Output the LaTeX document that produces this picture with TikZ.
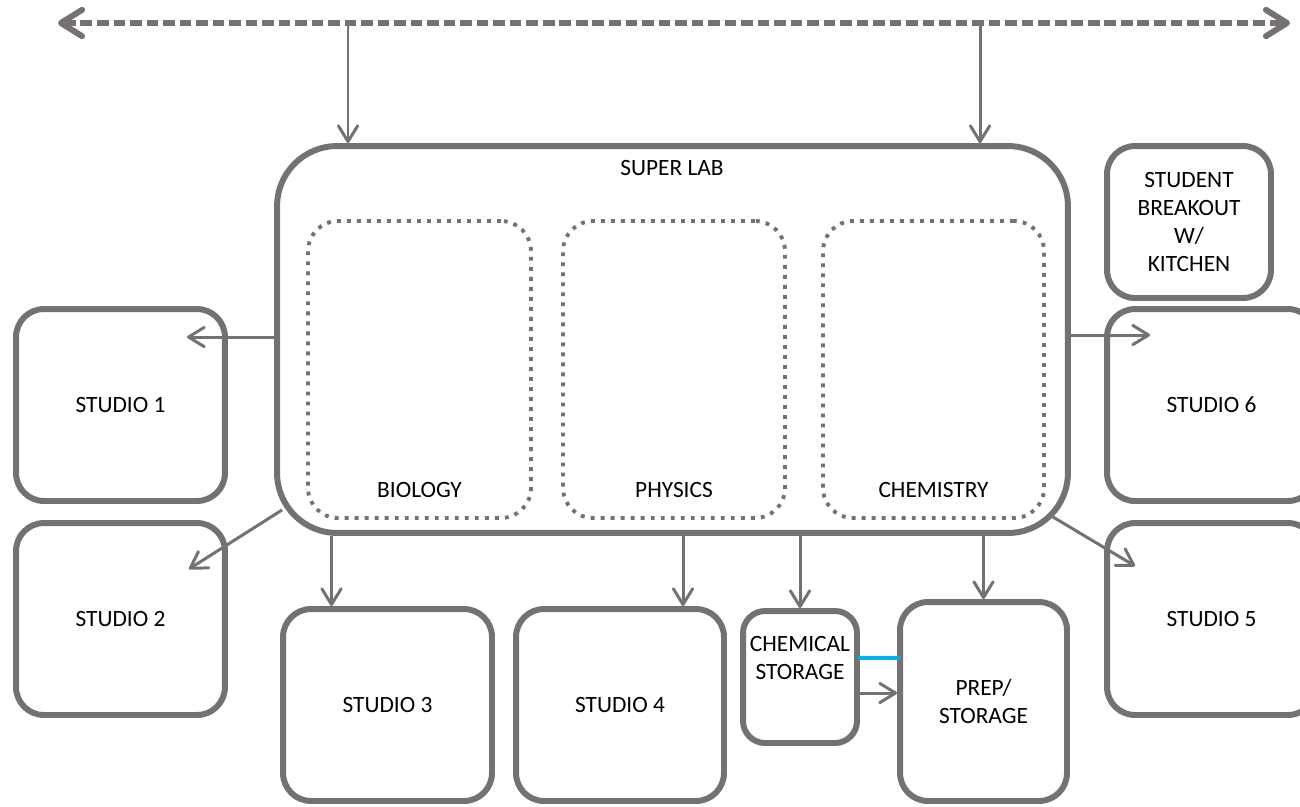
\documentclass[tikz,border=0pt]{standalone}
\usepackage{fontspec}
\setmainfont{Carlito}
\usepackage{xcolor}
\usepackage{tikz}
\usetikzlibrary{arrows.meta,positioning,calc}
\definecolor{labgray}{HTML}{767171}
\definecolor{lineblue}{HTML}{00B0F0}
\newcommand{\roomfont}{\fontsize{13.3}{16}\selectfont}

\begin{document}
\begin{tikzpicture}[x=0.02cm, y=-0.02cm,
  font=\roomfont,
  room/.style={draw=labgray, line width=3.4pt, rounded corners=0.56cm,
    align=center, inner sep=0pt},
  zone/.style={draw=labgray, line width=2.2pt, rounded corners=0.6cm,
    dash pattern=on 2.2pt off 3.5pt, inner sep=0pt},
  link/.style={draw=labgray, line width=1.7pt,
    -{Straight Barb[length=9pt, width=11pt, round]}},
  corridor/.style={draw=labgray, line width=3.4pt,
    dash pattern=on 6.6pt off 2.8pt,
    {Straight Barb[length=12pt, width=15pt, round]}-{Straight Barb[length=12pt, width=15pt, round]}},
  wire/.style={draw=lineblue, line width=2.8pt}]
\useasboundingbox (0,0) rectangle (1300,806);
\clip (0,0) rectangle (1300,806);

% super lab with its three zones
\node[room, rounded corners=1.2cm, minimum width=15.82cm, minimum height=7.74cm]
  (lab) at (672.5,339.5) {};
\node (labtxt) at (672,168) {SUPER LAB};
\node[zone, minimum width=4.46cm, minimum height=5.94cm] (bio) at (419.5,369.5) {};
\node[zone, minimum width=4.44cm, minimum height=5.94cm] (phy) at (674,369.5) {};
\node[zone, minimum width=4.42cm, minimum height=5.94cm] (chm) at (933.5,369.5) {};
\node[above=9pt of bio.south] (biotxt) {BIOLOGY};
\node[above=9pt of phy.south] (phytxt) {PHYSICS};
\node[above=9pt of chm.south] (chmtxt) {CHEMISTRY};

% rooms around it
\node[room, minimum width=4.18cm, minimum height=3.84cm] (s1) at (120.5,405) {STUDIO 1};
\node[room, minimum width=4.18cm, minimum height=3.84cm] (s2) at (120.5,619) {STUDIO 2};
\node[room, minimum width=4.18cm, minimum height=3.84cm] (s3) at (387.5,705) {STUDIO 3};
\node[room, minimum width=4.16cm, minimum height=3.84cm] (s4) at (620,705) {STUDIO 4};
\node[room, minimum width=4.18cm, minimum height=3.84cm] (s5) at (1211.5,619) {STUDIO 5};
\node[room, minimum width=4.18cm, minimum height=3.84cm] (s6) at (1211.5,405) {STUDIO 6};
\node[room, minimum width=3.28cm, minimum height=3.04cm] (brk) at (1189,222)
  {STUDENT\\BREAKOUT\\W/\\KITCHEN};
\node[room, rounded corners=0.44cm, minimum width=2.28cm, minimum height=2.64cm]
  (chem) at (800,677) {};
\node[align=center] (chemtxt) at ($(chem.north)+(0,50)$) {CHEMICAL\\STORAGE};
\node[room, minimum width=3.34cm, minimum height=3.98cm] (prep) at (983.5,701.5)
  {PREP/\\STORAGE};

% corridor
\coordinate (wl) at (58,23);
\coordinate (wr) at (1290,23);
\draw[corridor] (wl) -- (wr);
\coordinate (c1) at (348,23);
\coordinate (c2) at (980,23);
\draw[link] (c1) -- (c1 |- lab.north);
\draw[link] (c2) -- (c2 |- lab.north);

% connectors
\coordinate (tip1) at ($(s1.north east)+(-41,31)$);
\coordinate (tip6) at ($(s6.north west)+(46,29)$);
\coordinate (in3) at ($(s3.north)+(-56,0)$);
\coordinate (in4) at ($(s4.north)+(63,0)$);
\draw[link] (lab.west |- tip1) -- (tip1);
\draw[link] (lab.east |- tip6) -- (tip6);
\draw[link] ($(lab.south west)+(8,-26)$) -- ($(s2.east)+(-39,-50)$);
\draw[link] ($(lab.south east)+(-18,-19)$) -- ($(s5.west)+(31,-53)$);
\draw[link] (lab.south -| in3) -- (in3);
\draw[link] (lab.south -| in4) -- (in4);
\draw[link] (lab.south -| chem.north) -- (chem.north);
\draw[link] (lab.south -| prep.north) -- (prep.north);
\draw[link] ($(chem.east)+(0,16)$) coordinate (cp) -- (cp -| prep.west);
\draw[wire] ($(chem.east)+(-2,-19)$) coordinate (bw) -- ($(bw -| prep.west)+(3,0)$);
\end{tikzpicture}
\end{document}
